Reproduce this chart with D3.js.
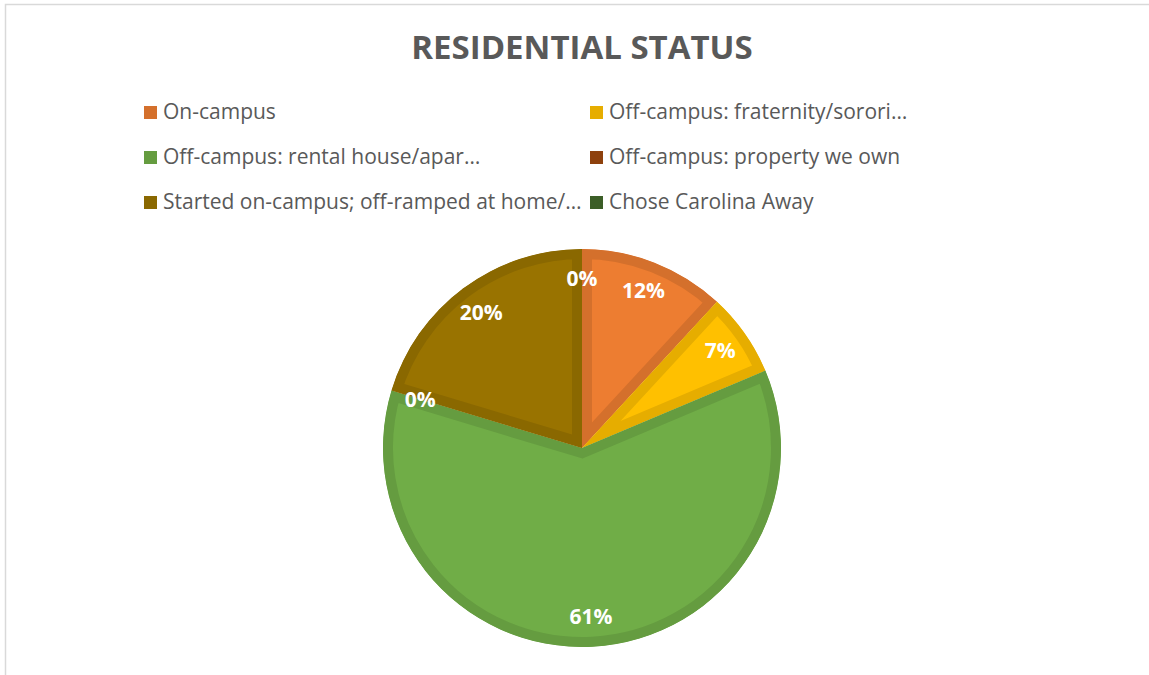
<!DOCTYPE html>
<html>
<head>
<meta charset="utf-8">
<script src="https://cdn.jsdelivr.net/npm/d3@7"></script>
<style>
  html, body { margin: 0; padding: 0; background: #fff; }
  svg { display: block; }
</style>
</head>
<body>
<svg id="chart" width="1149" height="675"></svg>
<script>
// Data (counts; percentages come out of the pie)
const categories = [
  "On-campus",
  "Off-campus: fraternity/sorori…",
  "Off-campus: rental house/apar…",
  "Off-campus: property we own",
  "Started on-campus; off-ramped at home/…",
  "Chose Carolina Away"
];
const counts = [7, 4, 36, 0, 12, 0];
const fills = ["#ED7D31", "#FFC000", "#70AD47", "#9E480E", "#997300", "#43682B"];
const edges = ["#D4702C", "#E6AD00", "#659C40", "#8E410D", "#8A6800", "#3C5E27"];

const svg = d3.select("#chart");
const W = 1149, H = 675;

// Chart frame
svg.append("rect")
  .attr("x", 5.5).attr("y", 4.5)
  .attr("width", W + 10).attr("height", H + 10)
  .attr("fill", "#fff")
  .attr("stroke", "#d9d9d9")
  .attr("stroke-width", 1.5);

// Title
svg.append("text")
  .attr("x", 582).attr("y", 59)
  .attr("text-anchor", "middle")
  .attr("font-family", "Open Sans")
  .attr("font-weight", "bold")
  .attr("font-size", 33)
  .attr("fill", "#595959")
  .text("RESIDENTIAL STATUS");

// Legend, two columns
const legend = svg.append("g");
const colX = [144, 590], rowY = [112, 157, 202];
categories.forEach((c, i) => {
  const g = legend.append("g")
    .attr("transform", `translate(${colX[i % 2]},${rowY[Math.floor(i / 2)]})`);
  g.append("rect")
    .attr("x", 0).attr("y", -6)
    .attr("width", 13).attr("height", 13)
    .attr("fill", edges[i]);
  g.append("text")
    .attr("x", 19).attr("y", 0)
    .attr("dy", "0.35em")
    .attr("font-family", "Open Sans")
    .attr("font-size", 21)
    .attr("fill", "#595959")
    .text(c);
});

// Pie
const cx = 582, cy = 448, r = 199;
const total = d3.sum(counts);
const pie = d3.pie().sort(null).value(d => d)(counts);
const arc = d3.arc().innerRadius(0).outerRadius(r);
const labelArc = d3.arc().innerRadius(169).outerRadius(169);

const pg = svg.append("g").attr("transform", `translate(${cx},${cy})`);
const defs = svg.append("defs");

pie.forEach((d, i) => {
  if (d.value === 0) return;
  defs.append("clipPath").attr("id", "clip" + i)
    .append("path").attr("d", arc(d));
  pg.append("path")
    .attr("d", arc(d))
    .attr("fill", fills[i])
    .attr("stroke", edges[i])
    .attr("stroke-width", 20)
    .attr("stroke-linejoin", "miter")
    .attr("clip-path", `url(#clip${i})`);
});

// Data labels
pg.selectAll("text.lbl")
  .data(pie)
  .enter().append("text")
  .attr("class", "lbl")
  .attr("transform", d => `translate(${labelArc.centroid(d)})`)
  .attr("text-anchor", "middle")
  .attr("dy", "0.35em")
  .attr("font-family", "Open Sans")
  .attr("font-weight", "bold")
  .attr("font-size", 21)
  .attr("fill", "#fff")
  .text(d => Math.round(d.value / total * 100) + "%");
</script>
</body>
</html>
